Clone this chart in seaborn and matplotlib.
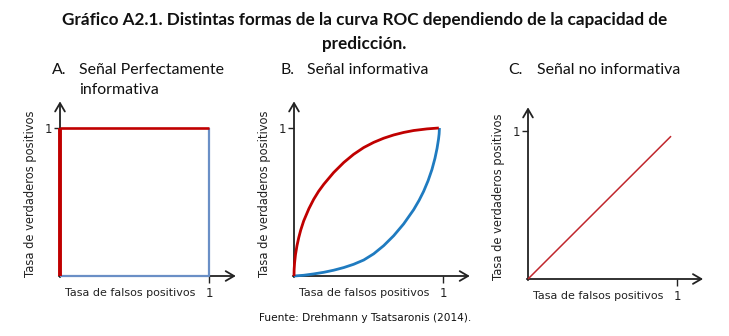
import matplotlib
matplotlib.use("Agg")
import matplotlib.pyplot as plt
import seaborn as sns

sns.set_style("white")
plt.rcParams["font.family"] = ["DejaVu Sans"]

W, H = 729, 336

# Panel titles
panel_letters = ["A.", "B.", "C."]
panel_titles = [["Señal Perfectamente", "informativa"],
                ["Señal informativa"],
                ["Señal no informativa"]]

x_label = "Tasa de falsos positivos"
y_label = "Tasa de verdaderos positivos"
tick_label = "1"

# A: perfectly informative signal
a_red_x = [0, 0, 1]
a_red_y = [0, 1, 1]
a_blue_x = [0, 1, 1]
a_blue_y = [0, 0, 1]

# B: informative signal
b_red_x = [0.0, 0.001, 0.004, 0.01, 0.02, 0.032, 0.045, 0.065, 0.1, 0.132, 0.165,
           0.2, 0.266, 0.334, 0.40, 0.468, 0.535, 0.602, 0.669, 0.736, 0.803,
           0.893, 0.972]
b_red_y = [0.0, 0.045, 0.09, 0.145, 0.205, 0.26, 0.31, 0.372, 0.455, 0.518, 0.572,
           0.62, 0.699, 0.767, 0.822, 0.868, 0.903, 0.931, 0.953, 0.970, 0.983,
           0.994, 1.0]
b_blue_x = [0.0, 0.066, 0.132, 0.2, 0.266, 0.334, 0.40, 0.468, 0.535, 0.602,
            0.669, 0.736, 0.803, 0.84, 0.87, 0.9, 0.926, 0.946, 0.96, 0.97,
            0.974, 0.976]
b_blue_y = [0.0, 0.005, 0.014, 0.025, 0.039, 0.057, 0.079, 0.108, 0.15, 0.205,
            0.272, 0.352, 0.448, 0.512, 0.572, 0.644, 0.72, 0.795, 0.862, 0.925,
            0.96, 1.0]

# C: non-informative signal
c_red_x = [0, 0.96]
c_red_y = [0, 0.965]

# origin pixel positions of each panel (x, y from top)
origins = [(60, 276), (294, 276), (528, 279)]
UX, UY = 149, 148
EXT_X = [1.18, 1.18, 1.175]
EXT_Y = [1.18, 1.18, 1.16]

fig = plt.figure(figsize=(W / 100, H / 100), dpi=100)


def fx(px):
    return px / W


def fy(py):
    return 1 - py / H


INK = "#222222"
axes = []
for i, (ox, oy) in enumerate(origins):
    w = EXT_X[i] * UX
    h = EXT_Y[i] * UY
    ax = fig.add_axes([fx(ox), fy(oy), w / W, h / H])
    ax.set_xlim(0, EXT_X[i])
    ax.set_ylim(0, EXT_Y[i])
    for s in ax.spines.values():
        s.set_visible(False)
    ax.set_facecolor("none")
    ax.set_xticks([1])
    ax.set_xticklabels([])
    ax.set_yticks([1])
    ax.set_yticklabels([tick_label], fontsize=8.5, color=INK)
    ax.tick_params(axis="both", direction="out", length=4, width=1.0,
                   color=INK, pad=1.5, left=True, bottom=True)
    ax.tick_params(axis="x", length=5)
    # axes drawn as arrows
    arrow = dict(arrowstyle="->,head_length=0.6,head_width=0.35", color=INK,
                 lw=1.3, shrinkA=0, shrinkB=0)
    ax.annotate("", xy=(EXT_X[i], 0), xytext=(-0.008, 0), arrowprops=arrow,
                annotation_clip=False, zorder=2)
    ax.annotate("", xy=(0, EXT_Y[i]), xytext=(0, -0.008), arrowprops=arrow,
                annotation_clip=False, zorder=2)
    ax.text(1, -0.115, tick_label, ha="center", va="center", fontsize=8.5,
            color=INK)
    ax.text(0.035, -0.115, x_label, ha="left", va="center", fontsize=8.0,
            color=INK)
    ax.text(-0.2, -0.005, y_label, ha="center", va="bottom", rotation=90,
            fontsize=8.3, color=INK)
    axes.append(ax)

# Panel A
sns.lineplot(x=a_blue_x, y=a_blue_y, ax=axes[0], sort=False, estimator=None,
             color="#6a8fc6", lw=1.6)
sns.lineplot(x=a_red_x[1:], y=a_red_y[1:], ax=axes[0],
             sort=False, estimator=None, color="#c00000", lw=1.9)
sns.lineplot(x=a_red_x[:2], y=a_red_y[:2], ax=axes[0], sort=False, estimator=None,
             color="#c00000", lw=2.8)

# Panel B
sns.lineplot(x=b_blue_x, y=b_blue_y, ax=axes[1], sort=False, estimator=None,
             color="#1f7bc0", lw=2.0)
sns.lineplot(x=b_red_x, y=b_red_y, ax=axes[1], sort=False, estimator=None,
             color="#c00000", lw=2.0)

# Panel C
sns.lineplot(x=c_red_x, y=c_red_y, ax=axes[2], sort=False, estimator=None,
             color="#c0262c", lw=1.1)

for ax in axes:
    for line in ax.get_lines():
        line.set_clip_on(False)
        line.set_zorder(4)
        line.set_solid_capstyle("butt")
        line.set_solid_joinstyle("round")

# Panel headings
title_font = dict(family=["Lato", "DejaVu Sans"], fontsize=11.4, color="#111111")
heading_pos = [(52, 79, 70), (281, 307, 70), (508, 537, 70)]
for (lx, tx, ty), letter, lines in zip(heading_pos, panel_letters, panel_titles):
    fig.text(fx(lx), fy(ty), letter, ha="left", va="center", **title_font)
    for k, line in enumerate(lines):
        fig.text(fx(tx), fy(ty + 20 * k), line, ha="left", va="center", **title_font)

# Figure title
heading_bold = dict(fontsize=12.3, fontweight="bold", family=["Lato", "DejaVu Sans"],
                    color="#111111", ha="center", va="center")
fig.text(0.5, fy(20),
         "Gráfico A2.1. Distintas formas de la curva ROC dependiendo de la capacidad de",
         **heading_bold)
fig.text(0.5, fy(44), "predicción.", **heading_bold)

# Source
fig.text(fx(365), fy(318), "Fuente: Drehmann y Tsatsaronis (2014).", ha="center",
         va="center", fontsize=7.6, color="#111111")

fig.savefig("out.png", dpi=100, facecolor="white")
